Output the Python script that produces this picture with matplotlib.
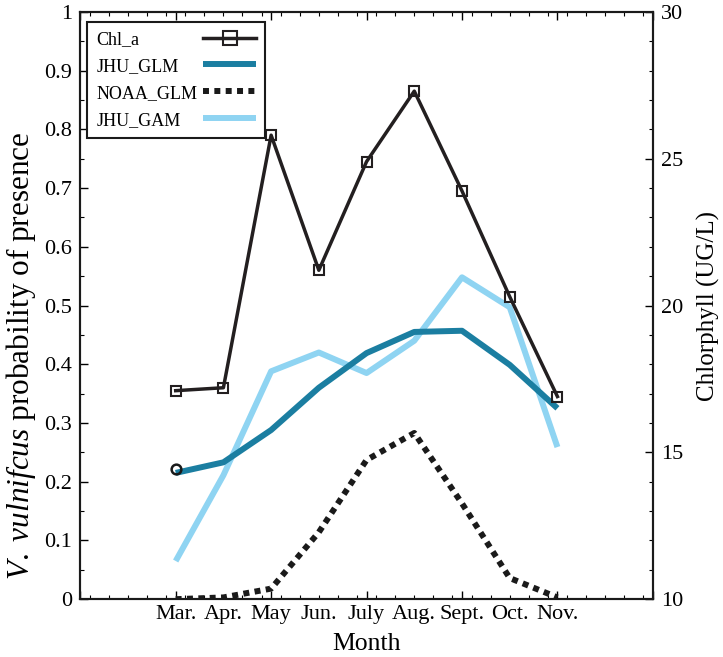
import numpy as np
import matplotlib
matplotlib.use("Agg")
import matplotlib.pyplot as plt
from matplotlib.ticker import MultipleLocator, FixedLocator

plt.rcParams['font.family'] = ['Liberation Serif', 'DejaVu Serif']
plt.rcParams['mathtext.fontset'] = 'custom'
plt.rcParams['mathtext.it'] = 'Liberation Serif:italic'
plt.rcParams['mathtext.rm'] = 'Liberation Serif'

months = [3, 4, 5, 6, 7, 8, 9, 10, 11]
month_labels = ['Mar.', 'Apr.', 'May', 'Jun.', 'July', 'Aug.', 'Sept.', 'Oct.', 'Nov.']
chl_a = [17.1, 17.2, 25.8, 21.2, 24.9, 27.3, 23.9, 20.3, 16.9]
jhu_glm = [0.215, 0.233, 0.288, 0.36, 0.419, 0.455, 0.457, 0.399, 0.325]
noaa_glm = [0.0, 0.003, 0.018, 0.114, 0.237, 0.283, 0.163, 0.036, 0.003]
jhu_gam = [0.065, 0.211, 0.388, 0.42, 0.385, 0.44, 0.548, 0.497, 0.259]
circle_x = [3]
circle_y = [0.222]
left_ticks = [0, 0.1, 0.2, 0.3, 0.4, 0.5, 0.6, 0.7, 0.8, 0.9, 1]
left_labels = ['0', '0.1', '0.2', '0.3', '0.4', '0.5', '0.6', '0.7', '0.8', '0.9', '1']

fig = plt.figure(figsize=(7.23, 6.57), dpi=100)
ax = fig.add_axes([0.111, 0.088, 0.792, 0.894])
ax2 = ax.twinx()

c_glm = '#1b7ea1'
c_gam = '#8fd4f2'
c_chl = '#231f20'

l_gam, = ax.plot(months, jhu_gam, color=c_gam, lw=4.3, solid_capstyle='butt', label='JHU_GAM', zorder=2)
l_glm, = ax.plot(months, jhu_glm, color=c_glm, lw=4.3, solid_capstyle='butt', label='JHU_GLM', zorder=3)
l_noaa, = ax.plot(months, noaa_glm, color='#1a1a1a', lw=4.3, linestyle=(0, (1, 0.9)), label='NOAA_GLM', zorder=3)
ax.plot(circle_x, circle_y, 'o', mfc='none', mec='#1a1a1a', mew=1.8, ms=7, zorder=4)

l_chl, = ax2.plot(months, chl_a, color=c_chl, lw=2.5, marker='s', ms=7, mfc='none', mec=c_chl, mew=1.5, label='Chl_a', zorder=4)

ax.set_xlim(1, 13)
ax.set_ylim(0, 1)
ax2.set_ylim(10, 30)

ax.xaxis.set_major_locator(FixedLocator(np.arange(1, 13.01, 2)))
ax.xaxis.set_minor_locator(MultipleLocator(0.4))
ax.set_xticklabels([])
ax.tick_params(axis='x', which='both', direction='in', top=True, bottom=True)
ax.tick_params(axis='x', which='major', length=6, width=1)
ax.tick_params(axis='x', which='minor', length=3, width=0.8)

sec = ax.secondary_xaxis('bottom')
sec.set_xticks(months)
sec.set_xticklabels(month_labels, fontsize=16)
sec.tick_params(length=0, pad=4)
sec.spines['bottom'].set_visible(False)
sec.set_xlabel('Month', fontsize=18.5, labelpad=7)

ax.set_yticks(left_ticks)
ax.set_yticklabels(left_labels, fontsize=16)
ax.yaxis.set_minor_locator(MultipleLocator(0.05))
ax.tick_params(axis='y', which='both', direction='in', right=False, left=True)
ax.tick_params(axis='y', which='major', length=6, width=1, pad=6)
ax.tick_params(axis='y', which='minor', length=3, width=0.8)
ax.set_ylabel(r'$\mathit{V.\ vulnifcus}$ probability of presence', fontsize=22.5)
ax.yaxis.set_label_coords(-0.074, 0.414)

ax2.yaxis.set_major_locator(MultipleLocator(5))
ax2.yaxis.set_minor_locator(MultipleLocator(1))
ax2.tick_params(axis='y', which='both', direction='in', labelsize=16)
ax2.tick_params(axis='y', which='major', length=6, width=1, pad=6)
ax2.tick_params(axis='y', which='minor', length=3, width=0.8)
ax2.set_ylabel('Chlorphyll (UG/L)', fontsize=18, labelpad=10)

for a in (ax, ax2):
    for s in a.spines.values():
        s.set_linewidth(1.5)
        s.set_color('#1a1a1a')

leg = ax2.legend(handles=[l_chl, l_glm, l_noaa, l_gam], loc='upper left',
                 bbox_to_anchor=(0.012, 0.983), borderaxespad=0, fontsize=13,
                 frameon=True, fancybox=False, edgecolor='#1a1a1a', framealpha=1,
                 markerfirst=False, handlelength=2.9, labelspacing=0.55,
                 handletextpad=0.35, borderpad=0.5, markerscale=1.5)
leg.get_frame().set_linewidth(1.5)

# left-align legend labels while keeping the handles in a right column
fig.canvas.draw()
r = fig.canvas.get_renderer()
try:
    for col in leg._legend_handle_box.get_children():
        rows = col.get_children()
        maxw = max(row.get_bbox(r).width for row in rows)
        for row in rows:
            row.mode = 'expand'
            row.width = maxw
except Exception:
    pass

fig.savefig('out.png', dpi=100)
